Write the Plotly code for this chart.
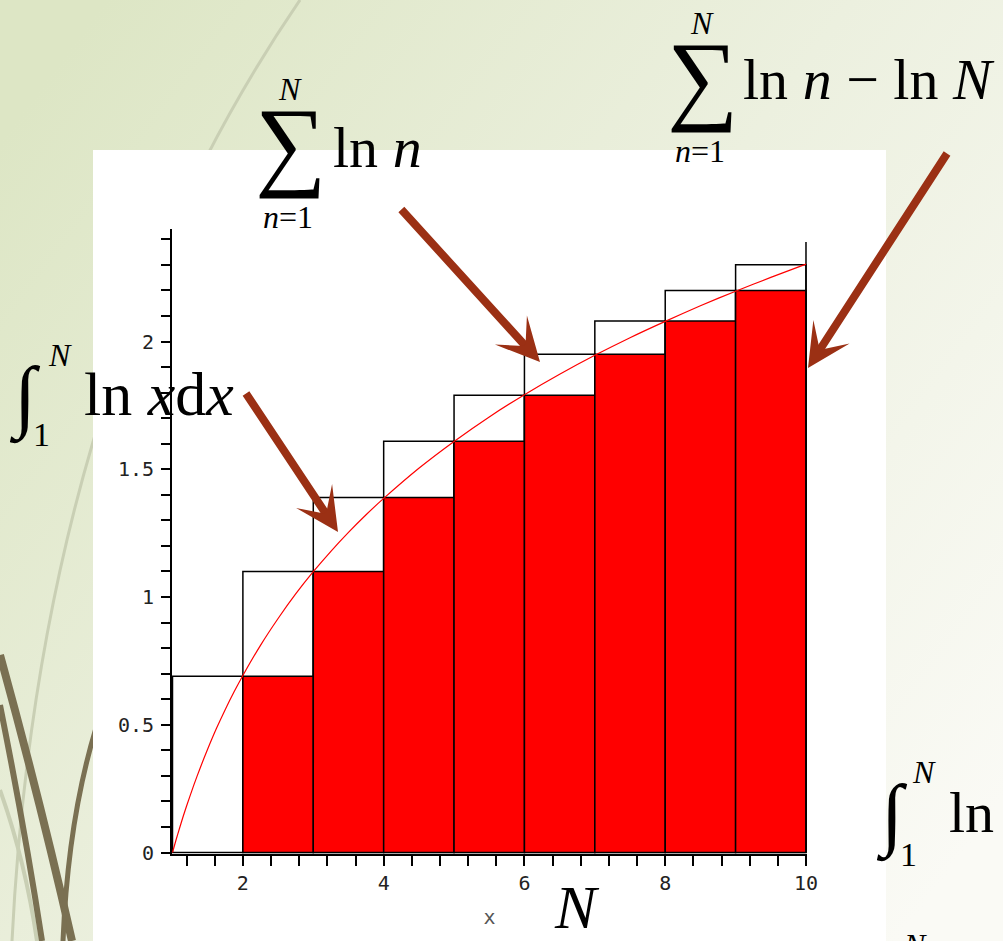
import base64

import plotly.graph_objects as go

W, H = 1003, 941

# outline boxes on [n, n+1], height ln(n+1)
box_left = [1, 2, 3, 4, 5, 6, 7, 8, 9]
box_height = [0.69, 1.10, 1.39, 1.61, 1.79, 1.95, 2.08, 2.20, 2.30]

# red boxes on [n, n+1], height ln(n)
fill_left = [2, 3, 4, 5, 6, 7, 8, 9]
fill_height = [0.69, 1.10, 1.39, 1.61, 1.79, 1.95, 2.08, 2.20]

# ln x curve
curve_x = [1, 1.05, 1.1, 1.15, 1.2, 1.3, 1.4, 1.5, 1.625, 1.75, 1.875, 2, 2.25, 2.5, 2.75,
           3, 3.25, 3.5, 3.75, 4, 4.5, 5, 5.5, 6, 6.5, 7, 7.5, 8, 8.5, 9, 9.5, 10]
curve_y = [0, 0.049, 0.095, 0.140, 0.182, 0.262, 0.336, 0.405, 0.486, 0.560, 0.629, 0.693, 0.811,
           0.916, 1.012, 1.099, 1.179, 1.253, 1.322, 1.386, 1.504, 1.609, 1.705, 1.792, 1.872,
           1.946, 2.015, 2.079, 2.140, 2.197, 2.251, 2.303]

# right edge line going up past the last box
edge_x = [10, 10]
edge_y = [0, 2.39]

RED = "#ff0000"
ARROW = "#9b3014"
SERIF = "Liberation Serif, Times New Roman, serif"
MONO = "DejaVu Sans Mono, monospace"
TICKFONT = dict(family=MONO, size=20, color="#222")

# slide background: gradient, grass strokes, white picture panel
BG_SVG = f"""<svg xmlns="http://www.w3.org/2000/svg" width="{W}" height="{H}" viewBox="0 0 {W} {H}">
<defs><linearGradient id="g" x1="0" y1="0.15" x2="1" y2="0.85">
<stop offset="0" stop-color="#dde6c5"/><stop offset="0.5" stop-color="#ecf0df"/><stop offset="1" stop-color="#fafaf5"/>
</linearGradient></defs>
<rect width="{W}" height="{H}" fill="url(#g)"/>
<path d="M300 0 Q40 380 12 941" stroke="#c9cfb4" stroke-width="3" fill="none"/>
<path d="M0 790 Q25 860 37 941" stroke="#c9cfb4" stroke-width="4" fill="none"/>
<path d="M0 655 Q40 800 72 941" stroke="#7a7052" stroke-width="8" fill="none"/>
<path d="M0 705 Q25 830 42 941" stroke="#7a7052" stroke-width="6" fill="none"/>
<path d="M96 728 Q68 820 63 941" stroke="#7a7052" stroke-width="5" fill="none"/>
<rect x="93" y="150" width="793" height="791" fill="#ffffff"/>
</svg>"""
BG_URI = "data:image/svg+xml;base64," + base64.b64encode(BG_SVG.encode()).decode()


def paper(x, y):
    """Pixel position on the slide -> paper coordinates."""
    return x / W, 1 - y / H


def text_label(text, x, y, size, xanchor="center"):
    px, py = paper(x, y)
    return dict(
        text=text, x=px, y=py, xref="paper", yref="paper",
        xanchor=xanchor, yanchor="middle", showarrow=False,
        font=dict(family=SERIF, size=size, color="black"),
    )


def arrow(tip, tail):
    px, py = paper(*tip)
    return dict(
        text="", x=px, y=py, xref="paper", yref="paper",
        ax=tail[0] - tip[0], ay=tail[1] - tip[1],
        showarrow=True, arrowhead=3, arrowsize=0.9, arrowwidth=8, arrowcolor=ARROW,
    )


fig = go.Figure()
fig.add_trace(go.Bar(
    x=box_left, y=box_height, width=1, offset=0,
    marker=dict(color="rgba(0,0,0,0)", line=dict(color="black", width=1.5)),
))
fig.add_trace(go.Bar(
    x=fill_left, y=fill_height, width=1, offset=0,
    marker=dict(color=RED, line=dict(color="black", width=1.5)),
))
fig.add_trace(go.Scatter(x=edge_x, y=edge_y, mode="lines", line=dict(color="black", width=1.5)))
fig.add_trace(go.Scatter(
    x=curve_x, y=curve_y, mode="lines",
    line=dict(color=RED, width=1.2, shape="spline", smoothing=0.6),
))

axis_style = dict(
    showline=True, linecolor="black", linewidth=1.5,
    ticks="outside", tickcolor="black", tickwidth=1.5,
    showgrid=False, zeroline=False, tickfont=TICKFONT,
)
fig.update_xaxes(
    range=[0.99, 10.02], domain=[171.8 / W, 807.4 / W],
    tick0=0, dtick=2, ticklen=10,
    minor=dict(ticks="outside", tick0=2, dtick=0.4, ticklen=10, tickwidth=1.5, tickcolor="black"),
    title=dict(text="x", font=dict(family=MONO, size=20, color="#555"), standoff=16),
    **axis_style,
)
fig.update_yaxes(
    range=[-0.005, 2.44], domain=[1 - 853.8 / H, 1 - 229.1 / H],
    tick0=0, dtick=0.5, ticklen=9, ticklabelstandoff=3,
    minor=dict(ticks="outside", tick0=0, dtick=0.1, ticklen=9, tickwidth=1.5, tickcolor="black"),
    **axis_style,
)

annotations = [
    # sum_{n=1}^N ln n
    text_label("∑", 290, 144, 100),
    text_label("<i>N</i>", 290, 89, 32),
    text_label("<i>n</i>=1", 288, 217, 32),
    text_label("ln <i>n</i>", 331, 147, 58, xanchor="left"),
    # sum_{n=1}^N ln n - ln N
    text_label("∑", 702, 77, 100),
    text_label("<i>N</i>", 702, 23, 32),
    text_label("<i>n</i>=1", 700, 151, 32),
    text_label("ln <i>n</i> − ln <i>N</i>", 741, 80, 58, xanchor="left"),
    # int_1^N ln x dx
    text_label("∫", 25, 398, 80),
    text_label("<i>N</i>", 60, 355, 32),
    text_label("1", 41, 435, 34),
    text_label("ln <i>x</i>d<i>x</i>", 82, 394, 62, xanchor="left"),
    # int_1^N ln (cut off at slide edge)
    text_label("∫", 892, 815, 80),
    text_label("<i>N</i>", 924, 772, 32),
    text_label("1", 908, 854, 34),
    text_label("ln", 947, 812, 58, xanchor="left"),
    text_label("<i>N</i>", 915, 945, 32),
    # N under the x axis
    text_label("<i>N</i>", 577, 907, 62),
    arrow((540, 362), (400, 208)),
    arrow((808, 368), (948, 152)),
    arrow((338, 532), (245, 392)),
]

fig.update_layout(
    width=W, height=H,
    margin=dict(l=0, r=0, t=0, b=0, autoexpand=False),
    barmode="overlay",
    showlegend=False,
    paper_bgcolor="#eef2e2",
    plot_bgcolor="rgba(0,0,0,0)",
    images=[dict(
        source=BG_URI, xref="paper", yref="paper", x=0, y=1,
        sizex=1, sizey=1, sizing="stretch", xanchor="left", yanchor="top", layer="below",
    )],
    annotations=annotations,
)

# drop the page's default body margin so the slide fills the window
fig.write_html(
    "out.html",
    config={"displayModeBar": False},
    post_script="document.body.style.margin = '0';",
)
